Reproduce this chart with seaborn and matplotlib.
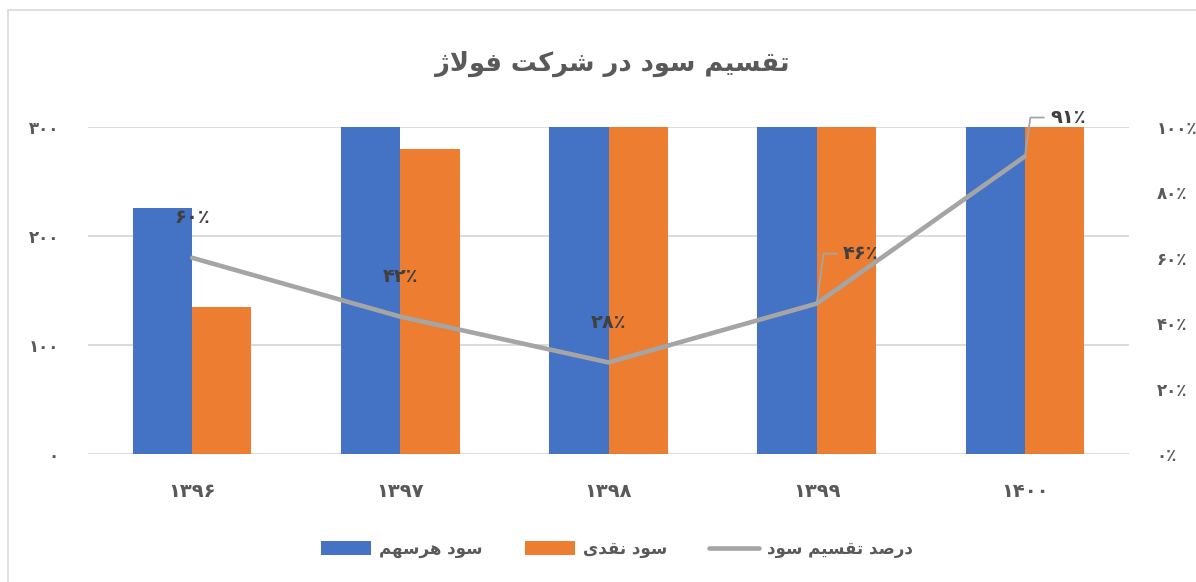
import numpy as np
import pandas as pd
import matplotlib
matplotlib.use("Agg")
import matplotlib.pyplot as plt
from matplotlib.patches import Patch, Rectangle
from matplotlib.lines import Line2D
import seaborn as sns

# ---------------- data ----------------
years = ['۱۳۹۶', '۱۳۹۷', '۱۳۹۸', '۱۳۹۹', '۱۴۰۰']
eps = [226, 667, 1100, 1000, 1500]          # سود هرسهم (clipped above 300 in chart)
dps = [135, 280, 310, 460, 1370]            # سود نقدی
payout = [0.60, 0.42, 0.28, 0.46, 0.91]     # درصد تقسیم سود
payout_labels = ['۶۰٪', '۴۲٪', '۲۸٪', '۴۶٪', '۹۱٪']
left_ticks = [0, 100, 200, 300]
left_tick_labels = ['۰', '۱۰۰', '۲۰۰', '۳۰۰']
right_ticks = [0, 0.2, 0.4, 0.6, 0.8, 1.0]
right_tick_labels = ['۰٪', '۲۰٪', '۴۰٪', '۶۰٪', '۸۰٪', '۱۰۰٪']
title_text = 'تقسیم سود در شرکت فولاژ'
series_names = ['سود هرسهم', 'سود نقدی', 'درصد تقسیم سود']

# ------------- simple Persian shaping (presentation forms + RTL) -------------
FORMS = {
    'ا': ('\uFE8D', '\uFE8E', None, None),
    'د': ('\uFEA9', '\uFEAA', None, None),
    'ر': ('\uFEAD', '\uFEAE', None, None),
    'ژ': ('\uFB8A', '\uFB8B', None, None),
    'و': ('\uFEED', '\uFEEE', None, None),
    'ت': ('\uFE95', '\uFE96', '\uFE97', '\uFE98'),
    'ق': ('\uFED5', '\uFED6', '\uFED7', '\uFED8'),
    'س': ('\uFEB1', '\uFEB2', '\uFEB3', '\uFEB4'),
    'ش': ('\uFEB5', '\uFEB6', '\uFEB7', '\uFEB8'),
    'ص': ('\uFEB9', '\uFEBA', '\uFEBB', '\uFEBC'),
    'ف': ('\uFED1', '\uFED2', '\uFED3', '\uFED4'),
    'ل': ('\uFEDD', '\uFEDE', '\uFEDF', '\uFEE0'),
    'م': ('\uFEE1', '\uFEE2', '\uFEE3', '\uFEE4'),
    'ن': ('\uFEE5', '\uFEE6', '\uFEE7', '\uFEE8'),
    'ه': ('\uFEE9', '\uFEEA', '\uFEEB', '\uFEEC'),
    'ی': ('\uFBFC', '\uFBFD', '\uFBFE', '\uFBFF'),
    'ک': ('\uFB8E', '\uFB8F', '\uFB90', '\uFB91'),
}


def shape(s):
    chars = list(s)
    n = len(chars)
    out = []

    def joins_next(c):
        return c in FORMS and FORMS[c][2] is not None

    i = 0
    while i < n:
        c = chars[i]
        if c not in FORMS:
            out.append(c)
            i += 1
            continue
        prev = chars[i - 1] if i > 0 else None
        prev_j = prev is not None and joins_next(prev)
        if c == 'ل' and i + 1 < n and chars[i + 1] == 'ا':
            out.append('\uFEFC' if prev_j else '\uFEFB')
            i += 2
            continue
        nxt = chars[i + 1] if i + 1 < n else None
        next_j = joins_next(c) and nxt in FORMS
        iso, fin, ini, med = FORMS[c]
        if prev_j and next_j:
            out.append(med)
        elif prev_j:
            out.append(fin)
        elif next_j:
            out.append(ini)
        else:
            out.append(iso)
        i += 1
    return ''.join(reversed(out))


# ---------------- style ----------------
sns.set_theme(style="white")
plt.rcParams['font.family'] = ['DejaVu Sans']
BLUE, ORANGE, GRAY = '#4472C4', '#ED7D31', '#A5A5A5'
TXT = '#595959'

fig = plt.figure(figsize=(11.96, 5.82), dpi=100)
fig.patches.append(Rectangle((8 / 1196, -0.1), 1.2, 1.1 - 10 / 582, transform=fig.transFigure,
                             fill=False, edgecolor='#D9D9D9', lw=1.2, zorder=0))
ax = fig.add_axes([88 / 1196, 1 - 454 / 582, (1129 - 88) / 1196, (454 - 127) / 582])

df = pd.DataFrame({
    'year': years * 2,
    'value': eps + dps,
    'series': [series_names[0]] * len(years) + [series_names[1]] * len(years),
})
sns.barplot(data=df, x='year', y='value', hue='series', palette=[BLUE, ORANGE],
            width=0.57, saturation=1, linewidth=0, legend=False, ax=ax, zorder=2)
ax.set_ylim(0, 300)
ax.set_xlim(-0.5, len(years) - 0.5)
ax.set_yticks(left_ticks)
ax.set_yticklabels(left_tick_labels)
ax.set_xticks(range(len(years)))
ax.set_xticklabels(years)
ax.set_xlabel('')
ax.set_ylabel('')
ax.yaxis.grid(True, color='#D9D9D9', lw=1.3, zorder=0)
ax.set_axisbelow(True)
for sp in ax.spines.values():
    sp.set_visible(False)
ax.tick_params(axis='both', length=0, labelcolor=TXT, labelsize=12)
ax.tick_params(axis='y', pad=21)
ax.tick_params(axis='x', pad=20, labelsize=14)
for lab in ax.get_xticklabels() + ax.get_yticklabels():
    lab.set_fontweight('bold')

ax2 = ax.twinx()
sns.lineplot(x=np.arange(len(years)), y=payout, ax=ax2, color=GRAY, lw=3.3,
             solid_joinstyle='round', solid_capstyle='round')
ax2.set_ylim(0, 1)
ax2.set_yticks(right_ticks)
ax2.set_yticklabels(right_tick_labels)
ax2.set_ylabel('')
for sp in ax2.spines.values():
    sp.set_visible(False)
ax2.tick_params(axis='y', length=0, labelcolor=TXT, labelsize=12, pad=20)
for lab in ax2.get_yticklabels():
    lab.set_fontweight('bold')

# data labels
for i, (v, t) in enumerate(zip(payout, payout_labels)):
    if i < 3:
        ax2.annotate(t, xy=(i, v), xytext=(0, 29), textcoords='offset points',
                     ha='center', va='center', fontsize=14, fontweight='bold',
                     color='#404040', annotation_clip=False)
    else:
        off = (19, 36) if i == 3 else (18, 28)
        ax2.annotate(t, xy=(i, v), xytext=off, textcoords='offset points',
                     ha='left', va='center', fontsize=14, fontweight='bold',
                     color='#404040', annotation_clip=False,
                     arrowprops=dict(arrowstyle='-', color=GRAY, lw=1.3,
                                     connectionstyle='angle,angleA=0,angleB=82,rad=0',
                                     shrinkA=2, shrinkB=0))

# title
fig.text(612 / 1196, 1 - 64 / 582, shape(title_text), ha='center', va='center',
         fontsize=18.5, fontweight='bold', color=TXT)

# legend
handles = [Patch(facecolor=BLUE, edgecolor='none'),
           Patch(facecolor=ORANGE, edgecolor='none'),
           Line2D([0], [0], color=GRAY, lw=3.3, solid_capstyle='round')]
leg = fig.legend(handles, [shape(s) for s in series_names], loc='center',
                 bbox_to_anchor=(617 / 1196, 1 - 549 / 582), ncol=3, frameon=False,
                 handlelength=3.0, handleheight=0.9, columnspacing=2.5, handletextpad=0.5,
                 prop=dict(size=12, weight='bold'))
for t in leg.get_texts():
    t.set_color(TXT)

fig.savefig('out.png', dpi=100)
